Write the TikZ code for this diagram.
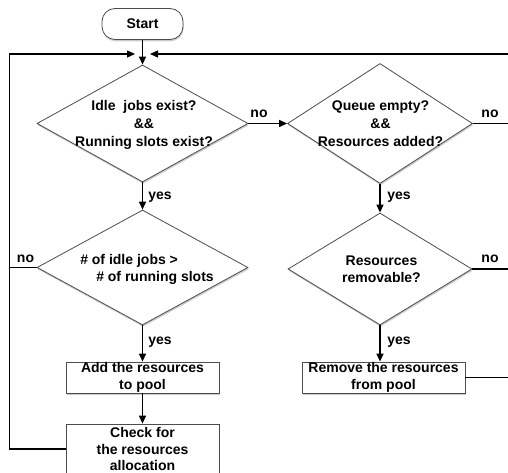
\documentclass[tikz,border=0pt]{standalone}
\usepackage{fontspec}
\setmainfont{Liberation Sans}
\usetikzlibrary{shapes.geometric,arrows.meta,shadows}
\begin{document}
\begin{tikzpicture}[x=1pt,y=-1pt,
  font=\bfseries\fontsize{14}{17}\selectfont,
  shp/.style={draw=black!70, line width=0.8pt, fill=white,
    drop shadow={opacity=0.4, shadow xshift=0.6pt, shadow yshift=-1.8pt}},
  dia/.style={shp, diamond, inner sep=0pt},
  boxx/.style={shp, rectangle, inner sep=0pt, align=center, minimum width=153pt},
  txt/.style={align=center, inner sep=0pt},
  conn/.style={line width=1.3pt, draw=black},
  arr/.style={conn, -{Triangle[length=8pt,width=7pt]}},
  lbl/.style={inner sep=0pt}
]
\path[use as bounding box, clip] (0,0) rectangle (508,473);

% shapes
\node[shp, rectangle, rounded corners=13pt, minimum width=81pt, minimum height=31pt] (start) at (142.5,24) {Start};

\node[dia, minimum width=211pt, minimum height=117pt] (d1) at (142.5,123.5) {};
\node[txt, font=\bfseries\fontsize{14}{18}\selectfont] (t1) at (144,124.5) {Idle\ \ jobs exist?\\\&\&\\Running slots exist?};

\node[dia, minimum width=185pt, minimum height=120pt] (d2) at (380,123.5) {};
\node[txt, font=\bfseries\fontsize{14}{18}\selectfont] (t2) at (380.5,123.5) {Queue empty?\\\&\&\\Resources added?};

\node[dia, minimum width=211pt, minimum height=115pt] (d3) at (142.5,267.5) {};
\node[txt, align=left] (t3) at (147,269) {\# of idle jobs >\\\hspace*{16pt}\# of running slots};

\node[dia, minimum width=184pt, minimum height=112pt] (d4) at (380,269) {};
\node[txt] (t4) at (381.5,269.5) {Resources\\removable?};

\node[boxx, minimum height=31pt] (b1) at (142.5,377.5) {Add the resources\\to pool};
\node[boxx, minimum height=50pt, font=\bfseries\fontsize{14}{16.5}\selectfont] (b2) at (142.5,449) {Check for\\the resources\\allocation};
\node[boxx, minimum width=163pt, minimum height=31pt] (b3) at (383.5,377.5) {Remove the resources\\from pool};

% loop coordinates
\coordinate (inL) at (135,54);
\coordinate (inR) at (150,54);
\coordinate (cL) at (9.5,54);
\coordinate (rT) at (513,54);
\coordinate (rB) at (513,380);

% connectors
\draw[arr] (start) -- (d1);
\draw[arr] (d1.east) -- (d2.west);
\draw[arr] (d1) -- (d3);
\draw[arr] (d3) -- (b1);
\draw[arr] (b1) -- (b2);
\draw[arr] (d2) -- (d4);
\draw[arr] (d4.south) -- (d4.south |- b3.north);
\draw[conn] (d3.west) -- (d3.west -| cL);
\draw[arr] (b2.west) -| (cL) -- (inL);
\draw[conn] (d2.east) -- (d2.east -| rT);
\draw[conn] (d4.east) -- (d4.east -| rT);
\draw[conn] (b3.east) -- (b3.east -| rT);
\draw[conn] (rB) -- (rT);
\draw[arr] (rT) -- (inR);

% labels
\node[lbl] (n1) at (259,113.5) {no};
\node[lbl] (n2) at (490,113.5) {no};
\node[lbl] (n3) at (25.5,258.5) {no};
\node[lbl] (n4) at (490,258.5) {no};
\node[lbl] (y1) at (160,197) {yes};
\node[lbl] (y2) at (399,197) {yes};
\node[lbl] (y3) at (160,342) {yes};
\node[lbl] (y4) at (399,342) {yes};
\end{tikzpicture}
\end{document}
